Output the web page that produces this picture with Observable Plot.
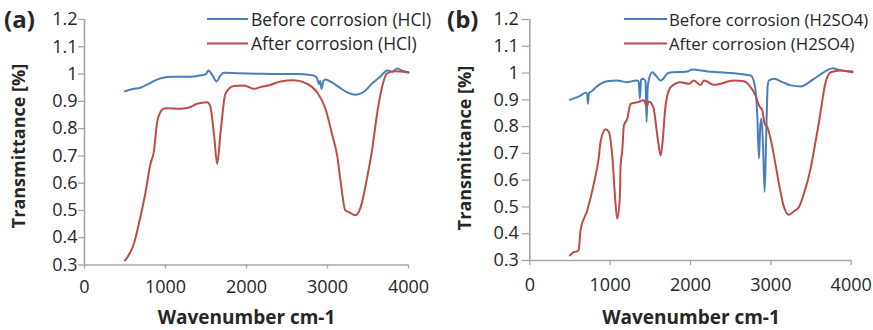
<!DOCTYPE html>
<html>
<head>
<meta charset="utf-8">
<script src="https://cdn.jsdelivr.net/npm/d3@7"></script>
<script src="https://cdn.jsdelivr.net/npm/@observablehq/plot@0.6"></script>
<style>
  html, body { margin: 0; padding: 0; background: #fff; }
  #fig { position: relative; width: 873px; height: 330px; overflow: hidden; background: #fff; }
  #fig > svg { position: absolute; top: 0; }
  #overlay { left: 0; pointer-events: none; }
</style>
</head>
<body>
<div id="fig"></div>
<script>
// ---- tick values ----
const xTicks = [0, 1000, 2000, 3000, 4000];
const yTicks = [0.3, 0.4, 0.5, 0.6, 0.7, 0.8, 0.9, 1.0, 1.1, 1.2];

// ---- panel (a): HCl ----
const hclBeforeWn = [500, 600, 690, 800, 940, 1100, 1310, 1430, 1500, 1530, 1580, 1630, 1680, 1720, 1900, 2170, 2400, 2600, 2830, 2870, 2895, 2910, 2926, 2950, 2975, 3050, 3150, 3250, 3346, 3450, 3550, 3650, 3740, 3800, 3860, 3920, 4000];
const hclBeforeT  = [0.937, 0.945, 0.950, 0.965, 0.985, 0.990, 0.990, 0.995, 1.000, 1.013, 0.995, 0.973, 0.995, 1.005, 1.003, 1.001, 1.000, 1.000, 0.995, 0.985, 0.964, 0.975, 0.946, 0.975, 0.980, 0.970, 0.950, 0.932, 0.924, 0.935, 0.965, 0.990, 1.013, 1.008, 1.020, 1.012, 1.005];

const hclAfterWn = [500, 610, 690, 750, 815, 855, 897, 940, 970, 1000, 1185, 1310, 1390, 1515, 1550, 1600, 1638, 1680, 1740, 1845, 1970, 2090, 2170, 2300, 2420, 2585, 2750, 2870, 2975, 3060, 3120, 3160, 3220, 3265, 3345, 3410, 3490, 3550, 3615, 3690, 3730, 3820, 4000];
const hclAfterT  = [0.317, 0.378, 0.476, 0.561, 0.671, 0.714, 0.824, 0.862, 0.872, 0.875, 0.873, 0.879, 0.891, 0.897, 0.885, 0.775, 0.671, 0.787, 0.928, 0.956, 0.958, 0.946, 0.952, 0.961, 0.973, 0.977, 0.964, 0.934, 0.873, 0.775, 0.700, 0.610, 0.500, 0.494, 0.482, 0.512, 0.622, 0.720, 0.860, 0.971, 1.001, 1.010, 1.007];

// ---- panel (b): H2SO4 ----
const h2so4BeforeWn = [500, 630, 695, 715, 723, 735, 760, 840, 965, 1090, 1210, 1320, 1355, 1370, 1385, 1410, 1440, 1453, 1468, 1482, 1525, 1570, 1628, 1730, 1960, 2020, 2210, 2375, 2750, 2800, 2830, 2852, 2868, 2882, 2900, 2923, 2945, 2960, 2976, 3040, 3150, 3250, 3370, 3540, 3700, 3766, 3870, 4015];
const h2so4BeforeT  = [0.900, 0.916, 0.926, 0.920, 0.885, 0.925, 0.930, 0.951, 0.969, 0.972, 0.966, 0.972, 0.970, 0.904, 0.975, 0.979, 0.970, 0.817, 0.950, 0.975, 1.003, 0.990, 0.972, 1.001, 1.006, 1.013, 1.006, 1.003, 0.991, 0.954, 0.850, 0.680, 0.800, 0.829, 0.750, 0.556, 0.800, 0.950, 0.972, 0.979, 0.965, 0.954, 0.950, 0.979, 1.010, 1.018, 1.010, 1.006];

const h2so4AfterWn = [500, 548, 590, 610, 631, 715, 797, 859, 880, 943, 984, 1026, 1067, 1088, 1121, 1130, 1151, 1171, 1213, 1254, 1337, 1420, 1453, 1482, 1537, 1587, 1628, 1648, 1690, 1752, 1877, 1980, 2042, 2126, 2167, 2291, 2540, 2665, 2749, 2811, 2852, 2894, 2923, 2956, 3006, 3060, 3101, 3163, 3226, 3290, 3350, 3412, 3496, 3537, 3599, 3682, 3745, 3869, 4015];
const h2so4AfterT  = [0.319, 0.332, 0.334, 0.340, 0.413, 0.487, 0.587, 0.686, 0.742, 0.790, 0.780, 0.692, 0.512, 0.456, 0.537, 0.655, 0.711, 0.804, 0.829, 0.885, 0.891, 0.898, 0.876, 0.894, 0.873, 0.767, 0.692, 0.730, 0.879, 0.947, 0.966, 0.960, 0.972, 0.955, 0.972, 0.956, 0.972, 0.969, 0.947, 0.916, 0.879, 0.860, 0.810, 0.798, 0.742, 0.655, 0.587, 0.500, 0.471, 0.485, 0.500, 0.550, 0.645, 0.711, 0.817, 0.966, 1.003, 1.010, 1.003];

// ---- text ----
const panelTags = ["(a)", "(b)"];
const legendLabelsA = ["Before corrosion (HCl)", "After corrosion (HCl)"];
const legendLabelsB = ["Before corrosion (H2SO4)", "After corrosion (H2SO4)"];
const xTitle = "Wavenumber cm-1";
const yTitle = "Transmittance [%]";

const BLUE = "#4a7ebb", RED = "#be4b48", AXIS = "#a6a6a6", INK = "#262626";
const FONT = "'Open Sans', 'DejaVu Sans', sans-serif";

const toRows = (wn, t) => wn.map((w, i) => ({wn: w, t: t[i]}));

function panel(before, after, m) {
  return Plot.plot({
    width: 436, height: 330,
    marginLeft: m.left, marginRight: m.right, marginTop: m.top, marginBottom: m.bottom,
    x: {domain: [0, 4000]},
    y: {domain: [0.3, 1.2]},
    style: {fontFamily: FONT, fontSize: "18px", color: INK, background: "transparent", overflow: "visible"},
    marks: [
      Plot.axisX({ticks: xTicks, tickFormat: d => String(d), tickSize: m.xTickSize, tickPadding: m.xTickPad, stroke: AXIS, fill: INK, strokeWidth: 1.3, label: null}),
      Plot.axisY({ticks: yTicks, tickFormat: d => d === 1 ? "1" : d.toFixed(1), tickSize: m.yTickSize, tickPadding: m.yTickPad, stroke: AXIS, fill: INK, strokeWidth: 1.3, label: null}),
      Plot.ruleY([0.3], {stroke: AXIS, strokeWidth: 1.6}),
      Plot.ruleX([0], {stroke: AXIS, strokeWidth: 1.6}),
      Plot.line(before, {x: "wn", y: "t", stroke: BLUE, strokeWidth: 2, curve: "monotone-x"}),
      Plot.line(after, {x: "wn", y: "t", stroke: RED, strokeWidth: 2, curve: "monotone-x"})
    ]
  });
}

const fig = document.getElementById("fig");

const plotA = panel(toRows(hclBeforeWn, hclBeforeT), toRows(hclAfterWn, hclAfterT),
  {left: 84, right: 28, top: 19, bottom: 65.5, xTickSize: 4, xTickPad: 11.5, yTickSize: 6, yTickPad: 1});
plotA.style.left = "0px";
fig.appendChild(plotA);

const plotB = panel(toRows(h2so4BeforeWn, h2so4BeforeT), toRows(h2so4AfterWn, h2so4AfterT),
  {left: 92.3, right: 22.3, top: 19, bottom: 70, xTickSize: 5, xTickPad: 12.5, yTickSize: 7.5, yTickPad: 3.5});
plotB.style.left = "437px";
fig.appendChild(plotB);

// ---- overlay: tags, legends, axis titles ----
const svg = d3.select(fig).append("svg").attr("id", "overlay")
  .attr("width", 873).attr("height", 330)
  .style("font-family", FONT).style("fill", INK);

const panelsLayout = [
  {tag: panelTags[0], tagX: 4, labels: legendLabelsA, lx0: 207, lx1: 248, tx: 251, legendSize: 17.5, xtX: 246.5, xtY: 324, ytX: 25, ytY: 146},
  {tag: panelTags[1], tagX: 447, labels: legendLabelsB, lx0: 624, lx1: 667, tx: 669, legendSize: 16.8, xtX: 691, xtY: 324, ytX: 471, ytY: 148}
];
const colors = [BLUE, RED];
const rowY = [19, 43.5];
const rowBase = [25.5, 50];

panelsLayout.forEach(p => {
  svg.append("text").attr("x", p.tagX).attr("y", 28).attr("font-size", 24).attr("font-weight", 700).text(p.tag);
  p.labels.forEach((lab, i) => {
    svg.append("line").attr("x1", p.lx0).attr("x2", p.lx1).attr("y1", rowY[i]).attr("y2", rowY[i])
      .attr("stroke", colors[i]).attr("stroke-width", 2);
    svg.append("text").attr("x", p.tx).attr("y", rowBase[i]).attr("font-size", p.legendSize).text(lab);
  });
  svg.append("text").attr("x", p.xtX).attr("y", p.xtY).attr("text-anchor", "middle")
    .attr("font-size", 19).attr("font-weight", 700).text(xTitle);
  svg.append("text").attr("transform", `translate(${p.ytX},${p.ytY}) rotate(-90)`)
    .attr("text-anchor", "middle").attr("font-size", 18).attr("font-weight", 700).text(yTitle);
});
</script>
</body>
</html>
